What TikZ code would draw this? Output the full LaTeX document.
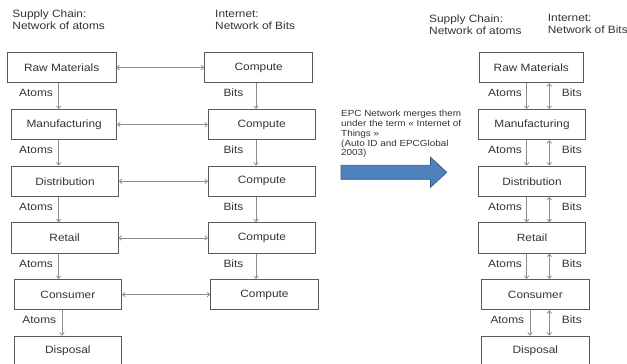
\documentclass[tikz,border=0pt]{standalone}
\usepackage{fontspec}
\setmainfont[FakeStretch=1.12]{Liberation Sans}
\usetikzlibrary{arrows.meta}
\definecolor{ink}{HTML}{333333}
\definecolor{frame}{HTML}{5A5A5A}
\definecolor{wire}{HTML}{8C8C8C}
\definecolor{flowfill}{HTML}{4F81BD}
\definecolor{flowline}{HTML}{385D8A}
\tikzset{
  box/.style={draw=frame, line width=0.8pt, minimum height=30.5pt, inner sep=0pt,
    text=ink, font=\fontsize{10.6}{12}\selectfont},
  lbl/.style={text=ink, font=\fontsize{10.6}{12}\selectfont, inner sep=0pt},
  head/.style={lbl, align=left, anchor=north west},
  arr/.style={draw=wire, line width=0.8pt, -{Straight Barb[length=2.5pt,width=4.5pt]}},
  arrs/.style={draw=wire, line width=0.8pt, {Straight Barb[length=2.5pt,width=4.5pt]}-{Straight Barb[length=2.5pt,width=4.5pt]}},
}
\begin{document}
\begin{tikzpicture}[x=1pt, y=-1pt]
\useasboundingbox (0,0) rectangle (627,364);

% ---- headers
\node[head] (hsc1) at (12.3,9.8) {Supply Chain:\\Network of atoms};
\node[head] (hin1) at (215,9.8) {Internet:\\Network of Bits};
\node[head] (hsc2) at (429,14.2) {Supply Chain:\\Network of atoms};
\node[head] (hin2) at (547.7,14.2) {Internet:\\Network of Bits};

% ---- supply chain column (left)
\node[box, minimum width=108.7pt] (lraw) at (61.65,67.55)  {Raw Materials};
\node[box, minimum width=105pt]   (lman) at (64.2,124.55)  {Manufacturing};
\node[box, minimum width=106.6pt] (ldis) at (65,181.25)    {Distribution};
\node[box, minimum width=107pt]   (lret) at (64.65,237.95) {Retail};
\node[box, minimum width=107.7pt] (lcon) at (67.85,294.55) {Consumer};
\node[box, minimum width=107.7pt] (ldsp) at (67.85,351.25) {Disposal};

% ---- internet column (left)
\node[box, minimum width=108pt]   (c1) at (258.7,67.55)  {Compute};
\node[box, minimum width=106.7pt] (c2) at (261.65,124.55) {Compute};
\node[box, minimum width=107.4pt] (c3) at (262,181.25)   {Compute};
\node[box, minimum width=107.4pt] (c4) at (262,237.95)   {Compute};
\node[box, minimum width=107.6pt] (c5) at (264.5,294.55) {Compute};

% ---- vertical flows, left
\draw[arr] (lraw.south -| 58.7,0) -- (lman.north -| 58.7,0);
\draw[arr] (lman.south -| 58.7,0) -- (ldis.north -| 58.7,0);
\draw[arr] (ldis.south -| 58.7,0) -- (lret.north -| 58.7,0);
\draw[arr] (lret.south -| 58.7,0) -- (lcon.north -| 58.7,0);
\draw[arr] (lcon.south -| 62,0) -- (ldsp.north -| 62,0);
\draw[arr] (c1.south -| 256,0) -- (c2.north -| 256,0);
\draw[arr] (c2.south -| 256,0) -- (c3.north -| 256,0);
\draw[arr] (c3.south -| 256,0) -- (c4.north -| 256,0);
\draw[arr] (c4.south -| 256,0) -- (c5.north -| 256,0);

% ---- horizontal links
\draw[arrs] (lraw.east) -- (c1.west);
\draw[arrs] (lman.east) -- (c2.west);
\draw[arrs] (ldis.east) -- (c3.west);
\draw[arrs] (lret.east) -- (c4.west);
\draw[arrs] (lcon.east) -- (c5.west);

% ---- flow labels, left
\foreach \y/\x [count=\i] in {96.7/19,153.2/19,210/19,267/19,323.8/22.3} {
  \node[lbl, anchor=base west] (la\i) at (\x,\y) {Atoms};
}
\foreach \y [count=\i] in {96.7,153.2,210,267} {
  \node[lbl, anchor=base west] (lb\i) at (223.3,\y) {Bits};
}

% ---- caption and arrow
\node[anchor=north west, align=left, inner sep=0pt, text=ink,
      font=\fontsize{8.84}{9.7}\selectfont] (cap) at (341,110.3)
  {EPC Network merges them\\under the term « Internet of\\Things »\\(Auto ID and EPCGlobal\\2003)};
\draw[fill=flowfill, draw=flowline, line width=0.8pt]
  (341,165.3) -- (430.5,165.3) -- (430.5,157.3) -- (446.7,172.3)
  -- (430.5,187.3) -- (430.5,179.3) -- (341,179.3) -- cycle;

% ---- merged column (right)
\node[box, minimum width=104pt]   (rraw) at (531.3,67.55)  {Raw Materials};
\node[box, minimum width=107.4pt] (rman) at (532,124.55)   {Manufacturing};
\node[box, minimum width=107.4pt] (rdis) at (532,181.25)   {Distribution};
\node[box, minimum width=107.4pt] (rret) at (532,237.95)   {Retail};
\node[box, minimum width=107.3pt] (rcon) at (535.35,294.55) {Consumer};
\node[box, minimum width=107.3pt] (rdsp) at (535.35,351.25) {Disposal};

\draw[arr]  (rraw.south -| 526.7,0) -- (rman.north -| 526.7,0);
\draw[arrs] (rraw.south -| 549.3,0) -- (rman.north -| 549.3,0);
\draw[arr]  (rman.south -| 526.7,0) -- (rdis.north -| 526.7,0);
\draw[arrs] (rman.south -| 549.3,0) -- (rdis.north -| 549.3,0);
\draw[arr]  (rdis.south -| 526.7,0) -- (rret.north -| 526.7,0);
\draw[arrs] (rdis.south -| 549.3,0) -- (rret.north -| 549.3,0);
\draw[arr]  (rret.south -| 526.7,0) -- (rcon.north -| 526.7,0);
\draw[arrs] (rret.south -| 549.3,0) -- (rcon.north -| 549.3,0);
\draw[arr]  (rcon.south -| 530,0) -- (rdsp.north -| 530,0);
\draw[arrs] (rcon.south -| 549.3,0) -- (rdsp.north -| 549.3,0);

\foreach \y/\x [count=\i] in {96.7/488,153.2/488,210/488,267/488,323.8/490.3} {
  \node[lbl, anchor=base west] (ra\i) at (\x,\y) {Atoms};
  \node[lbl, anchor=base west] (rb\i) at (561.7,\y) {Bits};
}
\end{tikzpicture}
\end{document}
